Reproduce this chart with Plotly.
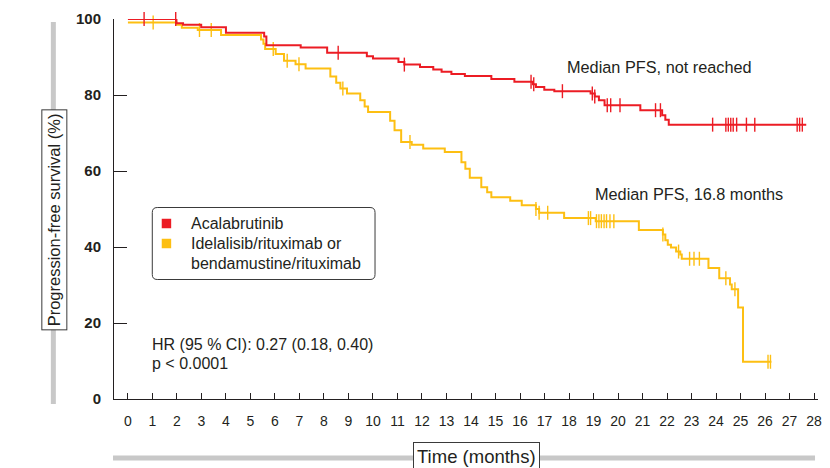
import plotly.graph_objects as go

# ---------------- data ----------------
acal_t = [0, 1.98, 2.25, 2.99, 4.0, 5.56, 5.65, 7.05, 8.13, 9.75, 10.0, 11.04, 11.28, 11.92,
          12.46, 12.8, 13.2, 13.75, 14.83, 15.77, 16.52, 16.65, 16.99, 17.4, 18.88, 19.05,
          19.22, 19.45, 20.91, 21.8, 21.93, 22.07, 27.68]
acal_s = [100, 98.9, 98.5, 97.8, 96.4, 95.4, 93.1, 92.5, 91.1, 90.2, 89.6, 88.7, 88.0, 87.4,
          86.7, 86.1, 85.5, 85.0, 84.2, 83.5, 82.8, 82.1, 81.4, 81.0, 80.4, 79.6,
          78.6, 77.3, 76.0, 74.7, 73.5, 72.2, 72.2]
acal_cens = [0.66, 1.95, 8.58, 11.28, 16.45, 16.56, 17.73, 18.95, 19.05, 19.56, 19.7, 20.08,
             21.53, 21.73, 23.86, 24.4, 24.5, 24.6, 24.7, 24.84, 25.24, 25.58, 27.31, 27.41, 27.52]

ide_t = [0, 1.98, 2.2, 2.85, 3.8, 5.43, 5.53, 5.6, 6.03, 6.37, 6.84, 7.25, 8.26, 8.5, 8.67,
         8.94, 9.48, 9.66, 9.8, 10.7, 10.88, 11.15, 11.58, 12.05, 12.93, 13.61, 13.77, 13.95,
         14.42, 14.66, 14.83, 15.6, 16.07, 16.65, 16.78, 17.8, 19.09, 20.85, 21.83, 21.93,
         22.03, 22.16, 22.37, 22.54, 22.6, 23.69, 24.13, 24.57, 24.64, 24.9, 25.1, 26.26]
ide_s = [99.1, 98.5, 97.7, 97.1, 95.8, 94.6, 93.5, 92.1, 90.8, 89.0, 88.1, 87.0, 84.9, 83.2, 81.7,
         80.4, 78.6, 77.0, 75.5, 73.2, 70.7, 67.6, 66.9, 65.9, 65.0, 62.3, 60.6, 58.2,
         55.7, 54.4, 53.1, 52.2, 51.0, 50.0, 49.0, 47.6, 46.8, 44.5, 43.3, 41.8,
         40.6, 39.9, 38.8, 38.0, 36.9, 34.5, 31.8, 30.1, 28.9, 24.1, 9.8, 9.8]
ide_cens = [1.03, 2.92, 3.4, 5.93, 6.5, 6.98, 8.77, 11.51, 16.65, 16.78, 17.13, 18.79, 18.88,
            19.12, 19.22, 19.32, 19.43, 19.53, 19.67, 19.83, 21.83, 22.47, 22.92, 23.1, 23.32,
            24.4, 24.77, 26.12, 26.22]

x_ticks = list(range(0, 29))
y_ticks = [0, 20, 40, 60, 80, 100]

RED = "#ec1c24"
YEL = "#fdbf12"
TXT = "#231f20"
GREY = "#c8c8c8"
FONT = "Liberation Sans, Arial, sans-serif"


def surv_at(ts, ss, t):
    v = ss[0]
    for ti, si in zip(ts, ss):
        if ti <= t:
            v = si
    return v


fig = go.Figure()
for ts, ss, cens, col in [(ide_t, ide_s, ide_cens, YEL), (acal_t, acal_s, acal_cens, RED)]:
    fig.add_trace(go.Scatter(x=ts, y=ss, mode="lines", line=dict(color=col, width=2, shape="hv"),
                             cliponaxis=False, showlegend=False, hoverinfo="skip"))
    fig.add_trace(go.Scatter(x=cens, y=[surv_at(ts, ss, c) for c in cens], mode="markers",
                             marker=dict(symbol="line-ns-open", size=10, color=col,
                                         line=dict(color=col, width=1.4)),
                             cliponaxis=False, showlegend=False, hoverinfo="skip"))

# pixel -> paper helpers (plot area: x 114..822, y 19..399)
L, R, T, B = 114, 822, 19, 399


def PX(px):
    return (px - L) / (R - L)


def PY(py):
    return (B - py) / (B - T)


shapes = []
# grey guide lines behind axis titles
shapes.append(dict(type="line", xref="paper", yref="paper", x0=PX(53), x1=PX(53), y0=PY(22), y1=PY(404),
                   line=dict(color=GREY, width=5)))
shapes.append(dict(type="line", xref="paper", yref="paper", x0=PX(113), x1=PX(819), y0=PY(458), y1=PY(458),
                   line=dict(color=GREY, width=5)))

# legend box (rounded)
bx0, bx1, by0, by1, r = 152.5, 376.5, 207.5, 279.5, 5


def rounded(x0, x1, y0, y1, r):
    return (f"M {PX(x0 + r)},{PY(y0)} L {PX(x1 - r)},{PY(y0)} Q {PX(x1)},{PY(y0)} {PX(x1)},{PY(y0 + r)} "
            f"L {PX(x1)},{PY(y1 - r)} Q {PX(x1)},{PY(y1)} {PX(x1 - r)},{PY(y1)} "
            f"L {PX(x0 + r)},{PY(y1)} Q {PX(x0)},{PY(y1)} {PX(x0)},{PY(y1 - r)} "
            f"L {PX(x0)},{PY(y0 + r)} Q {PX(x0)},{PY(y0)} {PX(x0 + r)},{PY(y0)} Z")


shapes.append(dict(type="path", xref="paper", yref="paper", path=rounded(bx0, bx1, by0, by1, r),
                   line=dict(color="#3a3a3a", width=1), fillcolor="white"))
for cy, col in [(223.5, RED), (243.5, YEL)]:
    shapes.append(dict(type="rect", xref="paper", yref="paper", x0=PX(162), x1=PX(171.5),
                       y0=PY(cy - 4.75), y1=PY(cy + 4.75), line=dict(width=0), fillcolor=col))

ann = []


def txt(text, px, py, xanchor="left", size=16, **kw):
    ann.append(dict(text=text, xref="paper", yref="paper", x=PX(px), y=PY(py), xanchor=xanchor,
                    yanchor="middle", showarrow=False, font=dict(family=FONT, size=size, color=TXT), **kw))


txt("Acalabrutinib", 189, 223)
txt("Idelalisib/rituximab or", 189, 243)
txt("bendamustine/rituximab", 189, 263)
txt("HR (95 % CI): 0.27 (0.18, 0.40)", 150, 344)
txt("p &lt; 0.0001", 150, 363)
txt("Median PFS, not reached", 568, 67, size=16.3)
txt("Median PFS, 16.8 months", 596, 194, size=16.3)
txt("Progression-free survival (%)", 54, 220, xanchor="center", size=16.5, textangle=-90,
    bordercolor="#3a3a3a", borderwidth=1, borderpad=3, bgcolor="white")
txt("Time (months)", 479, 456.5, xanchor="center", size=18.5,
    bordercolor="#3a3a3a", borderwidth=1, borderpad=3, bgcolor="white")

fig.update_layout(
    width=830, height=468,
    margin=dict(l=L, r=830 - R, t=T, b=468 - B),
    paper_bgcolor="white", plot_bgcolor="white",
    shapes=shapes, annotations=ann,
    xaxis=dict(range=[-14 / 24.64, 28.16], tickvals=x_ticks, ticktext=[str(v) for v in x_ticks],
               ticks="inside", ticklen=6, tickwidth=1, tickcolor=TXT,
               showline=True, linecolor=TXT, linewidth=1, showgrid=False, zeroline=False,
               tickfont=dict(family=FONT, size=14, color=TXT), ticklabelstandoff=9),
    yaxis=dict(range=[0, 100], tickvals=y_ticks, ticktext=[str(v) for v in y_ticks],
               ticks="inside", ticklen=13, tickwidth=1, tickcolor=TXT,
               showline=True, linecolor=TXT, linewidth=1, showgrid=False, zeroline=False,
               tickfont=dict(family=FONT, size=15, color=TXT, weight="bold"), ticklabelstandoff=9),
)

fig.write_html("out.html")
